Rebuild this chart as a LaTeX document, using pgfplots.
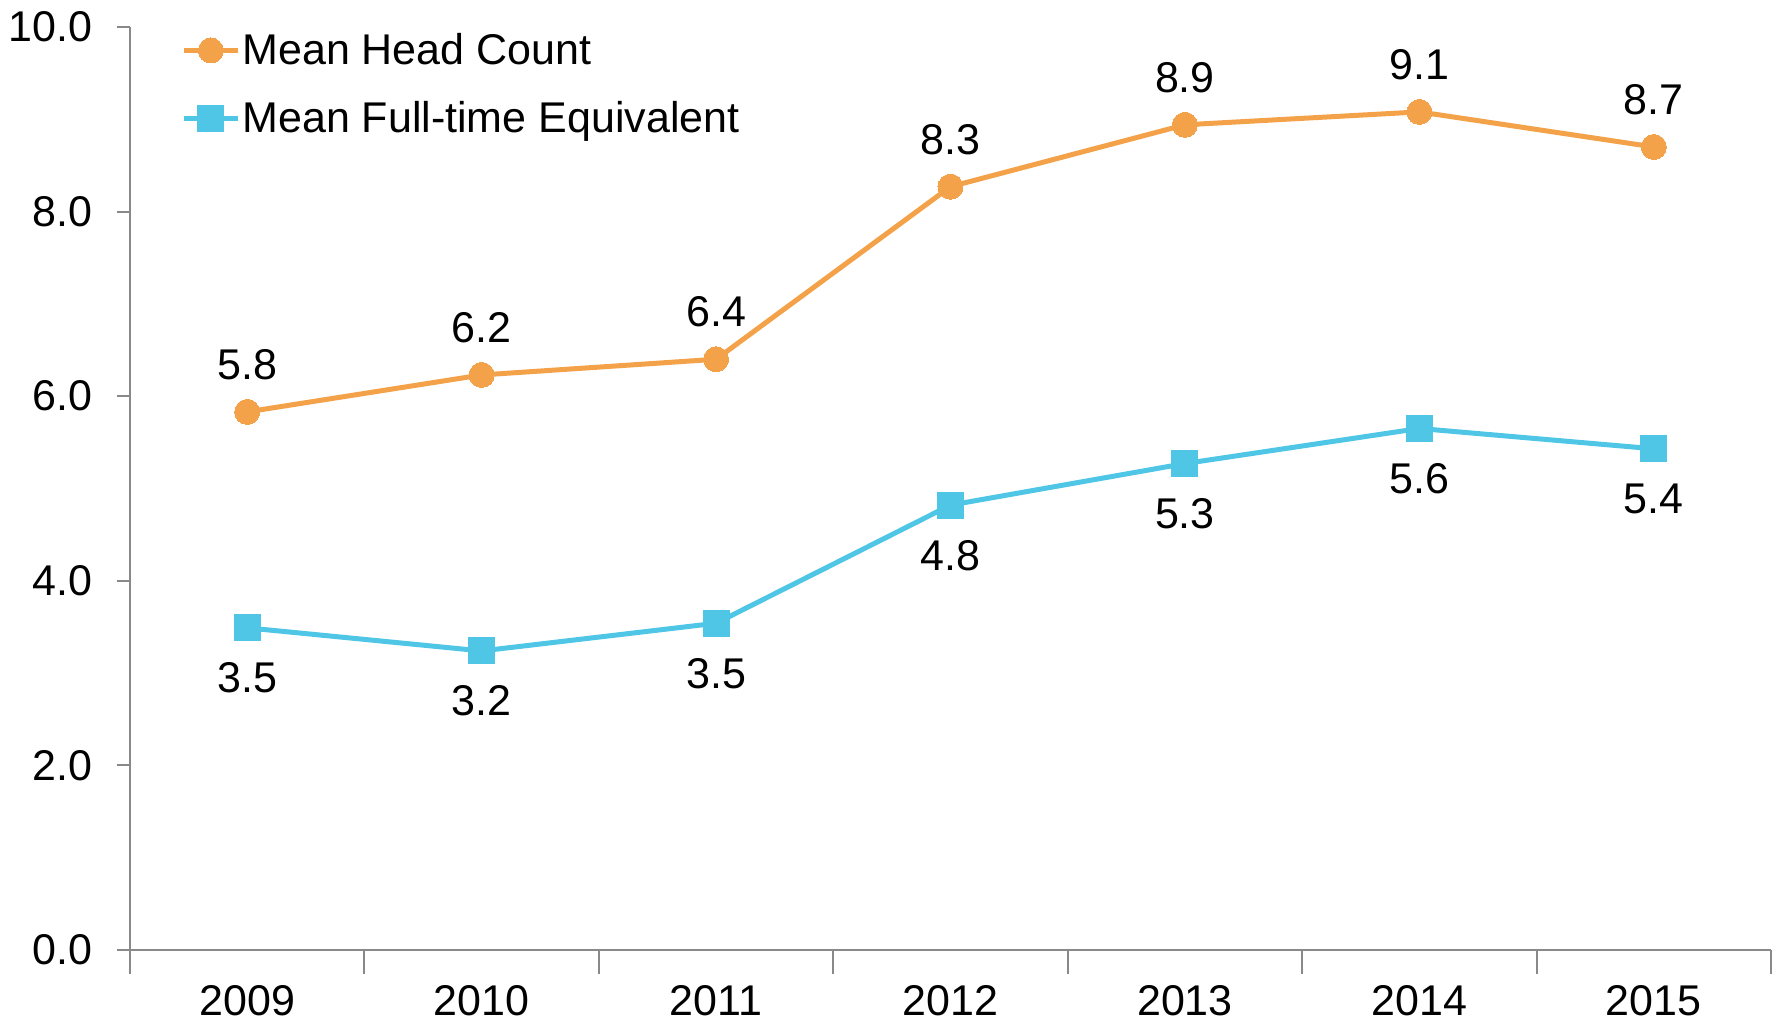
\documentclass[border=0pt]{standalone}
\usepackage{fontspec}
\setmainfont{Liberation Sans}
\usepackage{pgfplots}
\usepackage{pgfplotstable}
\pgfplotsset{compat=1.18}
\definecolor{cOrange}{RGB}{244,162,74}
\definecolor{cCyan}{RGB}{79,198,229}
\definecolor{cAxis}{RGB}{137,137,137}
\pgfplotstableread{
x y label
0 5.83 5.8
1 6.23 6.2
2 6.40 6.4
3 8.27 8.3
4 8.94 8.9
5 9.08 9.1
6 8.70 8.7
}\headcount
\pgfplotstableread{
x y label
0 3.49 3.5
1 3.24 3.2
2 3.54 3.5
3 4.82 4.8
4 5.27 5.3
5 5.65 5.6
6 5.43 5.4
}\fte
\begin{document}
\begin{tikzpicture}
\useasboundingbox (-65pt,-35pt) rectangle (824.5pt,475pt);
\begin{axis}[
  at={(0,0)}, anchor=south west,
  scale only axis,
  width=820.5pt, height=461.5pt,
  xmin=-0.5, xmax=6.5, ymin=0, ymax=10,
  axis x line*=bottom, axis y line*=left,
  axis line style={cAxis, line width=1pt, -},
  tick style={cAxis, line width=1pt},
  xtick={0,...,6},
  xticklabels={2009,2010,2011,2012,2013,2014,2015},
  major x tick style={draw=none},
  minor xtick={-0.5,0.5,...,6.5},
  minor tick length=12pt,
  x tick label style={anchor=north, inner sep=0pt, yshift=-11pt},
  ytick={0,2,...,10},
  tick align=outside,
  major tick length=6.5pt,
  y tick label style={anchor=east, inner sep=0pt, xshift=-12pt},
  yticklabel={\pgfmathprintnumber[fixed,fixed zerofill,precision=1]{\tick}},
  /pgf/number format/assume math mode=true,
  tick label style={font=\fontsize{21.5}{25}\selectfont},
  legend style={at={(axis description cs:0,1)}, anchor=north west,
    xshift=25.5pt, yshift=-2pt, draw=none, fill=none,
    font=\fontsize{21.5}{25}\selectfont, inner sep=0pt,
    row sep=15pt,
    nodes={inner sep=1pt}},
  legend cell align=left,
  legend image code/.code={
    \draw[#1, mark repeat=2, mark phase=2] plot coordinates {(0pt,0pt) (13.5pt,0pt) (27pt,0pt)};
  },
  nodes near coords,
  point meta=explicit symbolic,
  every node near coord/.append style={font=\fontsize{21.5}{25}\selectfont, inner sep=0pt},
  clip=false,
]
\addplot[cOrange, line width=2.5pt, mark=*, mark size=6.25pt, mark options={solid, fill=cOrange, draw=cOrange, line width=0pt},
  every node near coord/.append style={anchor=south, yshift=16pt, text=black}]
  table[x=x, y=y, meta=label] {\headcount};
\addlegendentry{Mean Head Count}
\addplot[cCyan, line width=2.5pt, mark=square*, mark size=6.5pt, mark options={solid, fill=cCyan, draw=cCyan, line width=0pt},
  every node near coord/.append style={anchor=north, yshift=-17.5pt, text=black}]
  table[x=x, y=y, meta=label] {\fte};
\addlegendentry{Mean Full-time Equivalent}
\end{axis}
\end{tikzpicture}
\end{document}
